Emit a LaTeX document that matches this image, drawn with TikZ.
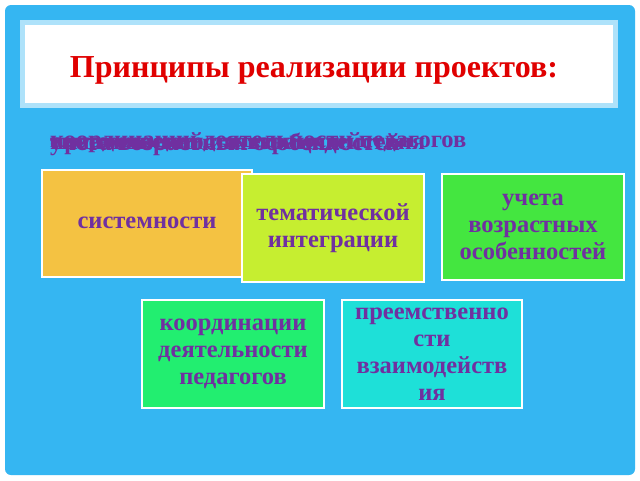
\documentclass[tikz,border=0pt]{standalone}
\usepackage{fontspec}
\setmainfont{Liberation Serif}
\begin{document}
\begin{tikzpicture}[x=1pt,y=-1pt,
 box/.style={draw=white,line width=2pt,inner sep=0pt,align=center,text=txt,font=\fontsize{24.5}{27}\selectfont\bfseries},
 ov/.style={anchor=west,inner sep=0pt,text=txt,font=\fontsize{24.5}{27}\selectfont\bfseries}]
\definecolor{bg}{HTML}{35B6F2}
\definecolor{txt}{HTML}{7030A0}
\useasboundingbox (0,0) rectangle (640,480);
\fill[white] (0,0) rectangle (640,480);
\fill[bg,rounded corners=6pt] (5,5) rectangle (635,475);
\draw[fill=white,draw=bg!40!white,line width=5pt] (22,22) rectangle (615,105);
\node[text={rgb,255:red,224;green,0;blue,0},font=\fontsize{32}{36}\selectfont\bfseries] (title) at (314,70) {Принципы реализации проектов:};
\foreach \t in {системности,тематической интеграции,учета возрастных особенностей,координации деятельности педагогов,преемственности взаимодействия}
  \node[ov] at (50,144) {\t};
\node[box,fill={rgb,255:red,244;green,194;blue,66},minimum width=210,minimum height=107] (b1) at (147,223) {системности};
\node[box,fill={rgb,255:red,198;green,238;blue,48},minimum width=182,minimum height=108] (b2) at (333,228) {тематической\\интеграции};
\node[box,fill={rgb,255:red,68;green,230;blue,64},minimum width=182,minimum height=106] (b3) at (533,227) {учета\\возрастных\\особенностей};
\node[box,fill={rgb,255:red,34;green,238;blue,112},minimum width=182,minimum height=108] (b4) at (233,354) {координации\\деятельности\\педагогов};
\node[box,fill={rgb,255:red,30;green,224;blue,216},minimum width=180,minimum height=108] (b5) at (432,354) {преемственно\\сти\\взаимодейств\\ия};
\end{tikzpicture}
\end{document}
